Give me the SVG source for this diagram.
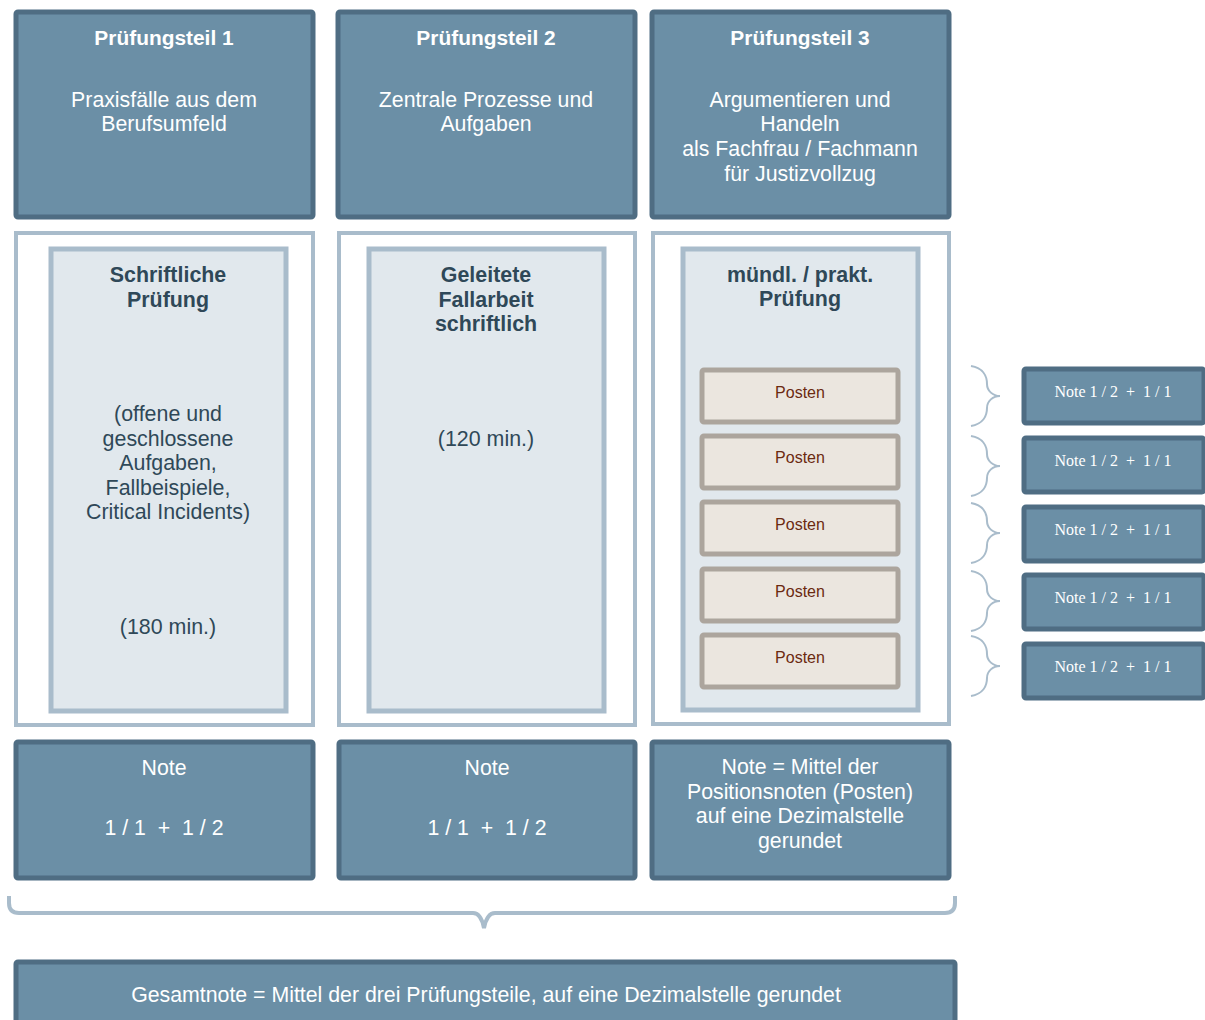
<svg xmlns="http://www.w3.org/2000/svg" width="1205" height="1020" viewBox="0 0 1205 1020">
<style>
.hdr{fill:#6b8fa6;stroke:#4f6d83;stroke-width:5}
.frame{fill:#ffffff;stroke:#a9bccb;stroke-width:4}
.inner{fill:#e1e8ed;stroke:#a9bccb;stroke-width:5}
.post{fill:#ebe6df;stroke:#aca59d;stroke-width:5}
.note{fill:#6b8fa6;stroke:#4f6d83;stroke-width:5}
text{white-space:pre}
.w{font-family:"Liberation Sans",Arial,sans-serif;font-size:21.3px;fill:#ffffff;text-anchor:middle}
.wb{font-family:"Liberation Sans",Arial,sans-serif;font-size:20.9px;font-weight:bold;fill:#ffffff;text-anchor:middle}
.d{font-family:"Liberation Sans",Arial,sans-serif;font-size:21.4px;fill:#2f4858;text-anchor:middle}
.db{font-family:"Liberation Sans",Arial,sans-serif;font-size:21.4px;font-weight:bold;fill:#2f4858;text-anchor:middle}
.p{font-family:"Liberation Sans",Arial,sans-serif;font-size:16px;fill:#6b2a10;text-anchor:middle}
.s{font-family:"Liberation Serif","Times New Roman",serif;font-size:16px;fill:#ffffff;text-anchor:middle}
.br{fill:none;stroke:#a9bccb;stroke-width:2}
.bigbr{fill:none;stroke:#a9bccb;stroke-width:4}
</style>
<g id="pt1"><rect class="hdr" x="16" y="12" width="297" height="205" rx="2"/><text class="wb" x="164" y="45">Prüfungsteil 1</text><text class="w" x="164" y="107">Praxisfälle aus dem</text><text class="w" x="164" y="131">Berufsumfeld</text></g>
<g id="pt2"><rect class="hdr" x="338" y="12" width="297" height="205" rx="2"/><text class="wb" x="486" y="45">Prüfungsteil 2</text><text class="w" x="486" y="107">Zentrale Prozesse und</text><text class="w" x="486" y="131">Aufgaben</text></g>
<g id="pt3"><rect class="hdr" x="652" y="12" width="297" height="205" rx="2"/><text class="wb" x="800" y="45">Prüfungsteil 3</text><text class="w" x="800" y="107">Argumentieren und</text><text class="w" x="800" y="131">Handeln</text><text class="w" x="800" y="156">als Fachfrau / Fachmann</text><text class="w" x="800" y="181">für Justizvollzug</text></g>
<g id="frame1"><rect class="frame" x="16" y="233" width="297" height="492"/><rect class="inner" x="51" y="249" width="235" height="462"/><text class="db" x="168" y="282">Schriftliche</text><text class="db" x="168" y="307">Prüfung</text><text class="d" x="168" y="421">(offene und</text><text class="d" x="168" y="446">geschlossene</text><text class="d" x="168" y="470">Aufgaben,</text><text class="d" x="168" y="495">Fallbeispiele,</text><text class="d" x="168" y="519">Critical Incidents)</text><text class="d" x="168" y="634">(180 min.)</text></g>
<g id="frame2"><rect class="frame" x="339" y="233" width="296" height="492"/><rect class="inner" x="369" y="249" width="235" height="462"/><text class="db" x="486" y="282">Geleitete</text><text class="db" x="486" y="307">Fallarbeit</text><text class="db" x="486" y="331">schriftlich</text><text class="d" x="486" y="446">(120 min.)</text></g>
<g id="frame3"><rect class="frame" x="653" y="233" width="296" height="491"/><rect class="inner" x="683" y="249" width="235" height="461"/><text class="db" x="800" y="282">mündl. / prakt.</text><text class="db" x="800" y="306">Prüfung</text></g>
<g id="posten1"><rect class="post" x="702" y="370" width="196" height="52" rx="2"/><text class="p" x="800" y="398">Posten</text></g>
<g id="posten2"><rect class="post" x="702" y="436" width="196" height="52" rx="2"/><text class="p" x="800" y="463">Posten</text></g>
<g id="posten3"><rect class="post" x="702" y="502" width="196" height="52" rx="2"/><text class="p" x="800" y="530">Posten</text></g>
<g id="posten4"><rect class="post" x="702" y="569" width="196" height="52" rx="2"/><text class="p" x="800" y="597">Posten</text></g>
<g id="posten5"><rect class="post" x="702" y="635" width="196" height="52" rx="2"/><text class="p" x="800" y="663">Posten</text></g>
<g id="note1"><rect class="note" x="1024" y="369" width="180" height="54" rx="2"/><text class="s" x="1113" y="397">Note 1 / 2  +  1 / 1</text></g>
<g id="note2"><rect class="note" x="1024" y="438" width="180" height="54" rx="2"/><text class="s" x="1113" y="466">Note 1 / 2  +  1 / 1</text></g>
<g id="note3"><rect class="note" x="1024" y="507" width="180" height="54" rx="2"/><text class="s" x="1113" y="535">Note 1 / 2  +  1 / 1</text></g>
<g id="note4"><rect class="note" x="1024" y="575" width="180" height="54" rx="2"/><text class="s" x="1113" y="603">Note 1 / 2  +  1 / 1</text></g>
<g id="note5"><rect class="note" x="1024" y="644" width="180" height="54" rx="2"/><text class="s" x="1113" y="672">Note 1 / 2  +  1 / 1</text></g>
<g id="res1"><rect class="hdr" x="16" y="742" width="297" height="136" rx="2"/><text class="w" x="164" y="775">Note</text><text class="w" x="164" y="835">1 / 1  +  1 / 2</text></g>
<g id="res2"><rect class="hdr" x="339" y="742" width="296" height="136" rx="2"/><text class="w" x="487" y="775">Note</text><text class="w" x="487" y="835">1 / 1  +  1 / 2</text></g>
<g id="res3"><rect class="hdr" x="652" y="742" width="297" height="136" rx="2"/><text class="w" x="800" y="774">Note = Mittel der</text><text class="w" x="800" y="799">Positionsnoten (Posten)</text><text class="w" x="800" y="823">auf eine Dezimalstelle</text><text class="w" x="800" y="848">gerundet</text></g>
<g id="gesamt"><rect class="hdr" x="16" y="962" width="939" height="70" rx="2"/><text class="w" x="486" y="1002">Gesamtnote = Mittel der drei Prüfungsteile, auf eine Dezimalstelle gerundet</text></g>
<g id="connectors">
<path class="br" d="M971,366 C983,368 987,376 987,384 C987,391 993,396 1000,396 C993,396 987,401 987,408 C987,416 983,424 971,426"/>
<path class="br" d="M971,436 C983,438 987,446 987,454 C987,461 993,466 1000,466 C993,466 987,471 987,478 C987,486 983,494 971,496"/>
<path class="br" d="M971,503 C983,505 987,513 987,521 C987,528 993,533 1000,533 C993,533 987,538 987,545 C987,553 983,561 971,563"/>
<path class="br" d="M971,571 C983,573 987,581 987,589 C987,596 993,601 1000,601 C993,601 987,606 987,613 C987,621 983,629 971,631"/>
<path class="br" d="M971,636 C983,638 987,646 987,654 C987,661 993,666 1000,666 C993,666 987,671 987,678 C987,686 983,694 971,696"/>
<path class="bigbr" d="M9,896 L9,903 Q9,913 19,913 L473,913 Q481,913 484,928 Q487,913 495,913 L945,913 Q955,913 955,903 L955,896"/>
</g>
</svg>
